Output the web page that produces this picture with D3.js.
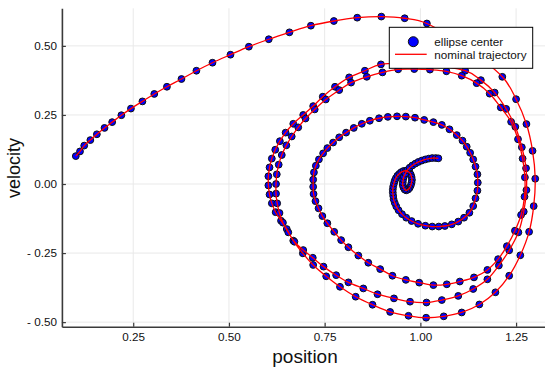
<!DOCTYPE html>
<html>
<head>
<meta charset="utf-8">
<script src="https://cdn.jsdelivr.net/npm/d3@7"></script>
<style>
  body { margin: 0; background: #fff; }
  svg { display: block; font-family: "Liberation Sans", Arial, sans-serif; }
</style>
</head>
<body>
<svg id="chart" width="545" height="370"></svg>
<script>
// axis ticks
const ticksX = [0.25, 0.5, 0.75, 1.0, 1.25];
const tickLabelsX = ["0.25", "0.50", "0.75", "1.00", "1.25"];
const ticksY = [-0.5, -0.25, 0, 0.25, 0.5];
const tickLabelsY = ["- 0.50", "- 0.25", "0.00", "0.25", "0.50"];

// ellipse centers, [position, velocity] in path order
const arch = [[0.100,0.101],[0.111,0.118],[0.122,0.139],[0.138,0.159],[0.155,0.180],[0.175,0.203],[0.195,0.224],[0.219,0.249],[0.244,0.273],[0.274,0.299],[0.305,0.326],[0.338,0.352],[0.376,0.380],[0.415,0.410],[0.457,0.439],[0.504,0.468],[0.552,0.497],[0.604,0.524],[0.658,0.549],[0.714,0.573],[0.774,0.590],[0.835,0.602],[0.898,0.606],[0.959,0.600],[1.017,0.581]];

const loop1 = [[1.214,0.388],[1.250,0.307],[1.277,0.217],[1.293,0.120],[1.300,0.019],[1.296,-0.080],[1.284,-0.173],[1.261,-0.258],[1.232,-0.332],[1.196,-0.392],[1.154,-0.436],[1.108,-0.465],[1.061,-0.479],[1.015,-0.484],[0.969,-0.477],[0.921,-0.463],[0.875,-0.437],[0.831,-0.408],[0.790,-0.372],[0.754,-0.334],[0.720,-0.293],[0.693,-0.251],[0.668,-0.205],[0.651,-0.163],[0.636,-0.133],[0.622,-0.102],[0.612,-0.070],[0.606,-0.038],[0.603,-0.005],[0.603,0.028],[0.606,0.060],[0.612,0.092],[0.621,0.124],[0.633,0.155],[0.648,0.186],[0.668,0.218],[0.694,0.250],[0.720,0.282],[0.745,0.316],[0.777,0.352],[0.814,0.386],[0.855,0.410],[0.897,0.433]];

const loop2 = [[1.117,0.410],[1.158,0.376],[1.194,0.331],[1.224,0.272],[1.248,0.207],[1.265,0.133],[1.276,0.057],[1.277,-0.022],[1.270,-0.100],[1.256,-0.175],[1.232,-0.240],[1.205,-0.295],[1.175,-0.345],[1.138,-0.380],[1.099,-0.405],[1.056,-0.420],[1.016,-0.429],[0.973,-0.426],[0.931,-0.414],[0.888,-0.399],[0.851,-0.378],[0.812,-0.356],[0.780,-0.330],[0.747,-0.299],[0.719,-0.267],[0.694,-0.239],[0.671,-0.209],[0.655,-0.175],[0.641,-0.140],[0.632,-0.105],[0.626,-0.070],[0.623,-0.035],[0.623,0.000],[0.625,0.035],[0.630,0.070],[0.638,0.105],[0.650,0.140],[0.664,0.172],[0.681,0.205],[0.700,0.237],[0.724,0.270],[0.753,0.306],[0.788,0.340],[0.819,0.367],[0.860,0.388],[0.901,0.404],[0.942,0.415],[0.984,0.416],[1.025,0.414],[1.068,0.408]];

const loop3 = [[1.108,0.392],[1.147,0.365],[1.181,0.327],[1.210,0.277],[1.237,0.225],[1.255,0.162],[1.267,0.092],[1.273,0.024],[1.272,-0.046],[1.263,-0.112],[1.247,-0.169],[1.226,-0.225],[1.203,-0.272],[1.175,-0.311],[1.140,-0.338],[1.103,-0.353],[1.069,-0.363],[1.034,-0.366],[0.997,-0.357],[0.962,-0.347],[0.927,-0.332],[0.895,-0.308],[0.864,-0.285],[0.838,-0.259],[0.812,-0.229],[0.793,-0.203],[0.775,-0.173],[0.757,-0.142],[0.744,-0.116],[0.734,-0.088],[0.726,-0.062],[0.721,-0.036],[0.720,-0.010],[0.720,0.016],[0.722,0.042],[0.727,0.066],[0.735,0.089],[0.746,0.111],[0.757,0.130],[0.772,0.150],[0.788,0.169],[0.806,0.186],[0.826,0.203],[0.847,0.218],[0.868,0.229],[0.892,0.238],[0.915,0.243],[0.939,0.245],[0.962,0.244],[0.986,0.240],[1.010,0.232],[1.034,0.224]];

const loop4 = [[1.056,0.214],[1.076,0.198],[1.095,0.177],[1.110,0.157],[1.121,0.135],[1.130,0.113],[1.138,0.089],[1.144,0.063],[1.149,0.035],[1.150,0.005],[1.149,-0.024],[1.144,-0.052],[1.138,-0.080],[1.128,-0.104],[1.114,-0.122],[1.099,-0.136],[1.082,-0.146],[1.064,-0.152],[1.048,-0.154],[1.031,-0.154],[1.013,-0.151]];

const core = [[0.994,-0.144],[0.977,-0.134],[0.963,-0.122],[0.952,-0.109],[0.943,-0.095],[0.937,-0.081],[0.933,-0.068],[0.930,-0.055],[0.929,-0.043],[0.928,-0.031],[0.928,-0.020],[0.929,-0.009],[0.931,0.002],[0.933,0.012],[0.936,0.021],[0.940,0.030],[0.945,0.037],[0.950,0.043],[0.956,0.047],[0.962,0.048],[0.967,0.046],[0.972,0.041],[0.975,0.034],[0.977,0.025],[0.978,0.015],[0.977,0.005],[0.975,-0.005],[0.972,-0.014],[0.968,-0.020],[0.963,-0.023],[0.959,-0.020],[0.956,-0.013],[0.954,-0.004],[0.954,0.006],[0.955,0.017],[0.957,0.027],[0.961,0.038],[0.966,0.050],[0.972,0.059],[0.979,0.067],[0.987,0.074],[0.995,0.080],[1.004,0.085],[1.013,0.089],[1.022,0.092],[1.031,0.094],[1.040,0.094],[1.047,0.093]];

const centers = [].concat(arch, loop1, loop2, loop3, loop4, core);

const svg = d3.select("#chart");
const plotLeft = 61.9, plotRight = 545, plotTop = 8.3, plotBottom = 326.7;

const x = d3.scaleLinear().domain([0.0637, 1.3255]).range([plotLeft, plotRight]);
const y = d3.scaleLinear().domain([-0.5165, 0.636]).range([plotBottom, plotTop]);

// grid
svg.append("g").selectAll("line").data(ticksX).enter().append("line")
  .attr("x1", d => x(d)).attr("x2", d => x(d))
  .attr("y1", plotTop).attr("y2", plotBottom)
  .attr("stroke", "#e9e9e9").attr("stroke-width", 1);
svg.append("g").selectAll("line").data(ticksY).enter().append("line")
  .attr("x1", plotLeft).attr("x2", plotRight)
  .attr("y1", d => y(d)).attr("y2", d => y(d))
  .attr("stroke", "#e9e9e9").attr("stroke-width", 1);

// axes
const xAxis = d3.axisBottom(x).tickValues(ticksX)
  .tickFormat((d, i) => tickLabelsX[i])
  .tickSizeInner(-4).tickSizeOuter(0).tickPadding(6);
const yAxis = d3.axisLeft(y).tickValues(ticksY)
  .tickFormat((d, i) => tickLabelsY[i])
  .tickSizeInner(-4).tickSizeOuter(0).tickPadding(5);

const gx = svg.append("g").attr("transform", "translate(0," + plotBottom + ")").call(xAxis);
const gy = svg.append("g").attr("transform", "translate(" + plotLeft + ",0)").call(yAxis);
[gx, gy].forEach(g => {
  g.select(".domain").attr("stroke", "#3a3a3a").attr("stroke-width", 1.6);
  g.selectAll(".tick line").attr("stroke", "#3a3a3a").attr("stroke-width", 1.2);
  g.selectAll(".tick text").attr("fill", "#111").attr("font-size", 11.7)
    .attr("font-family", "Liberation Sans, Arial, sans-serif");
});

// ellipse centers
svg.append("g").selectAll("circle").data(centers).enter().append("circle")
  .attr("cx", d => x(d[0])).attr("cy", d => y(d[1]))
  .attr("r", 3.4)
  .attr("fill", "#0000ff")
  .attr("stroke", "#111").attr("stroke-width", 1);

// nominal trajectory
const line = d3.line().x(d => x(d[0])).y(d => y(d[1])).curve(d3.curveCatmullRom.alpha(0.5));
svg.append("path").datum(centers)
  .attr("d", line)
  .attr("fill", "none").attr("stroke", "#ff0000").attr("stroke-width", 1.3);

// axis titles
svg.append("text").attr("x", 305).attr("y", 363)
  .attr("text-anchor", "middle").attr("font-size", 19).attr("fill", "#111")
  .text("position");
svg.append("text").attr("transform", "translate(20,168) rotate(-90)")
  .attr("text-anchor", "middle").attr("font-size", 18).attr("fill", "#111")
  .text("velocity");

// legend
const lg = svg.append("g");
lg.append("rect").attr("x", 389.3).attr("y", 27.3).attr("width", 143.4).attr("height", 41)
  .attr("fill", "#fff").attr("stroke", "#000").attr("stroke-width", 1);
lg.append("circle").attr("cx", 413.3).attr("cy", 41.7).attr("r", 5)
  .attr("fill", "#0000ff").attr("stroke", "#111").attr("stroke-width", 1);
lg.append("line").attr("x1", 395).attr("x2", 426.7).attr("y1", 54.3).attr("y2", 54.3)
  .attr("stroke", "#ff0000").attr("stroke-width", 1.3);
lg.append("text").attr("x", 434.3).attr("y", 41.7).attr("dy", "0.35em")
  .attr("font-size", 11.7).attr("fill", "#111").text("ellipse center");
lg.append("text").attr("x", 434.3).attr("y", 54.6).attr("dy", "0.35em")
  .attr("font-size", 11.7).attr("fill", "#111").text("nominal trajectory");
</script>
</body>
</html>
